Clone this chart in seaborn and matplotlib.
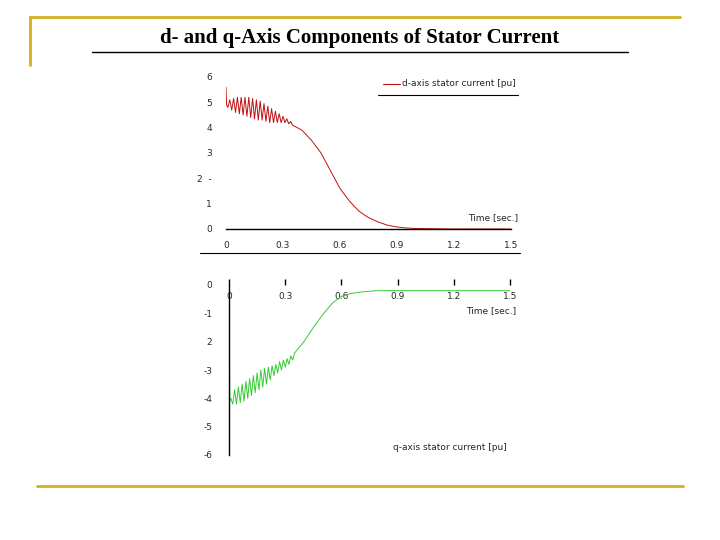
import matplotlib
matplotlib.use("Agg")
import matplotlib.pyplot as plt
import seaborn as sns
import pandas as pd
from matplotlib.lines import Line2D

sns.set_style("white")
plt.rcParams['font.family'] = ['DejaVu Sans']

osc_t = [0.010,0.020,0.030,0.040,0.050,0.060,0.070,0.080,0.090,0.100,0.110,0.120,0.130,0.140,0.150,
         0.160,0.170,0.180,0.190,0.200,0.210,0.220,0.230,0.240,0.250,0.260,0.270,0.280,0.290,0.300,
         0.310,0.320,0.330,0.340,0.350]
d_osc = [4.8,5.1,4.7,5.15,4.6,5.2,4.55,5.2,4.5,5.2,4.45,5.2,4.4,5.15,4.35,5.1,4.3,5.05,4.3,4.95,
         4.25,4.85,4.2,4.75,4.2,4.65,4.2,4.55,4.2,4.45,4.2,4.35,4.15,4.25,4.1]
q_osc = [-4.0,-4.2,-3.7,-4.2,-3.6,-4.15,-3.5,-4.1,-3.4,-4.0,-3.3,-3.9,-3.2,-3.8,-3.1,-3.7,-3.0,-3.6,
         -2.95,-3.5,-2.9,-3.35,-2.85,-3.2,-2.8,-3.1,-2.7,-3.0,-2.65,-2.9,-2.6,-2.8,-2.5,-2.65,-2.4]
d_head_t = [0.0, 0.003]
d_head = [5.6, 4.9]
q_head_t = [0.0, 0.002, 0.004]
q_head = [0.0, -1.8, -4.1]
tail_t = [0.40,0.45,0.50,0.55,0.60,0.65,0.70,0.75,0.80,0.85,0.90,0.95,1.00,1.10,1.20,1.50]
d_tail = [3.9,3.5,3.0,2.3,1.6,1.1,0.7,0.45,0.28,0.15,0.08,0.04,0.02,0.01,0.0,0.0]
q_tail = [-2.0,-1.5,-1.05,-0.65,-0.4,-0.3,-0.25,-0.22,-0.2,-0.2,-0.2,-0.2,-0.2,-0.2,-0.2,-0.2]
xticks = [0, 0.3, 0.6, 0.9, 1.2, 1.5]
xtick_labels = ["0", "0.3", "0.6", "0.9", "1.2", "1.5"]
d_yticks = [0, 1, 2, 3, 4, 5, 6]
d_ylabels = ["0", "1", "2  -", "3", "4", "5", "6"]
q_yticks = [0, -1, -2, -3, -4, -5, -6]
q_ylabels = ["0", "-1", "2", "-3", "-4", "-5", "-6"]

t_all = d_head_t + osc_t + tail_t
dfd = pd.DataFrame({"t": t_all, "v": d_head + d_osc + d_tail})
dfq = pd.DataFrame({"t": q_head_t + osc_t + tail_t, "v": q_head + q_osc + q_tail})

fig = plt.figure(figsize=(7.2, 5.4), dpi=100)
gold = "#d4b020"
fig.add_artist(Line2D([30/720, 680/720], [1-17/540, 1-17/540], color=gold, lw=2))
fig.add_artist(Line2D([30/720, 30/720], [1-17/540, 1-65/540], color=gold, lw=2))
fig.add_artist(Line2D([37/720, 683/720], [1-486/540, 1-486/540], color=gold, lw=2))
fig.text(0.5, 1-38/540, "d- and q-Axis Components of Stator Current", ha="center", va="center",
         family="Liberation Serif", fontsize=15, weight="bold", color="black")
fig.add_artist(Line2D([92/720, 628/720], [1-52/540, 1-52/540], color="black", lw=1))

fs = 6.5
ax1 = fig.add_axes([226/720, 1-229/540, 285/720, 152/540])
sns.lineplot(data=dfd, x="t", y="v", ax=ax1, color="#c01010", lw=0.7, sort=False, estimator=None)
ax1.set_xlim(0, 1.5); ax1.set_ylim(0, 6)
for s in ["top", "right", "left"]:
    ax1.spines[s].set_visible(False)
ax1.spines["bottom"].set_color("black"); ax1.spines["bottom"].set_linewidth(1)
ax1.set_xticks(xticks, xtick_labels); ax1.set_yticks(d_yticks, d_ylabels)
ax1.tick_params(length=0, labelsize=fs, pad=9)
ax1.tick_params(axis="y", pad=10)
ax1.set_xlabel(""); ax1.set_ylabel("")
ax1.patch.set_alpha(0)
fig.text(518/720, 1-218/540, "Time [sec.]", ha="right", va="center", fontsize=fs)
fig.add_artist(Line2D([383/720, 400/720], [1-84/540, 1-84/540], color="#c01010", lw=0.8))
fig.text(402/720, 1-84/540, "d-axis stator current [pu]", ha="left", va="center", fontsize=fs)
fig.add_artist(Line2D([378/720, 518/720], [1-95/540, 1-95/540], color="black", lw=0.8))
fig.add_artist(Line2D([200/720, 520/720], [1-253/540, 1-253/540], color="black", lw=0.8))

ax2 = fig.add_axes([229/720, 1-455/540, 281/720, 170/540])
sns.lineplot(data=dfq, x="t", y="v", ax=ax2, color="#33cc33", lw=0.7, sort=False, estimator=None)
ax2.set_xlim(0, 1.5); ax2.set_ylim(-6, 0)
for s in ["top", "right"]:
    ax2.spines[s].set_visible(False)
ax2.spines["bottom"].set_position(("data", 0))
ax2.spines["bottom"].set_visible(False)
ax2.spines["left"].set_color("black"); ax2.spines["left"].set_linewidth(1)
ax2.set_xticks(xticks, xtick_labels); ax2.set_yticks(q_yticks, q_ylabels)
ax2.tick_params(axis="x", bottom=True, direction="in", length=4, width=1, labelsize=fs, pad=5, color="black")
ax2.tick_params(axis="y", length=0, labelsize=fs, pad=12)
ax2.set_xlabel(""); ax2.set_ylabel("")
ax2.patch.set_alpha(0)
fig.text(516/720, 1-311/540, "Time [sec.]", ha="right", va="center", fontsize=fs)
fig.text(393/720, 1-448/540, "q-axis stator current [pu]", ha="left", va="center", fontsize=fs)

fig.savefig("out.png", dpi=100)
